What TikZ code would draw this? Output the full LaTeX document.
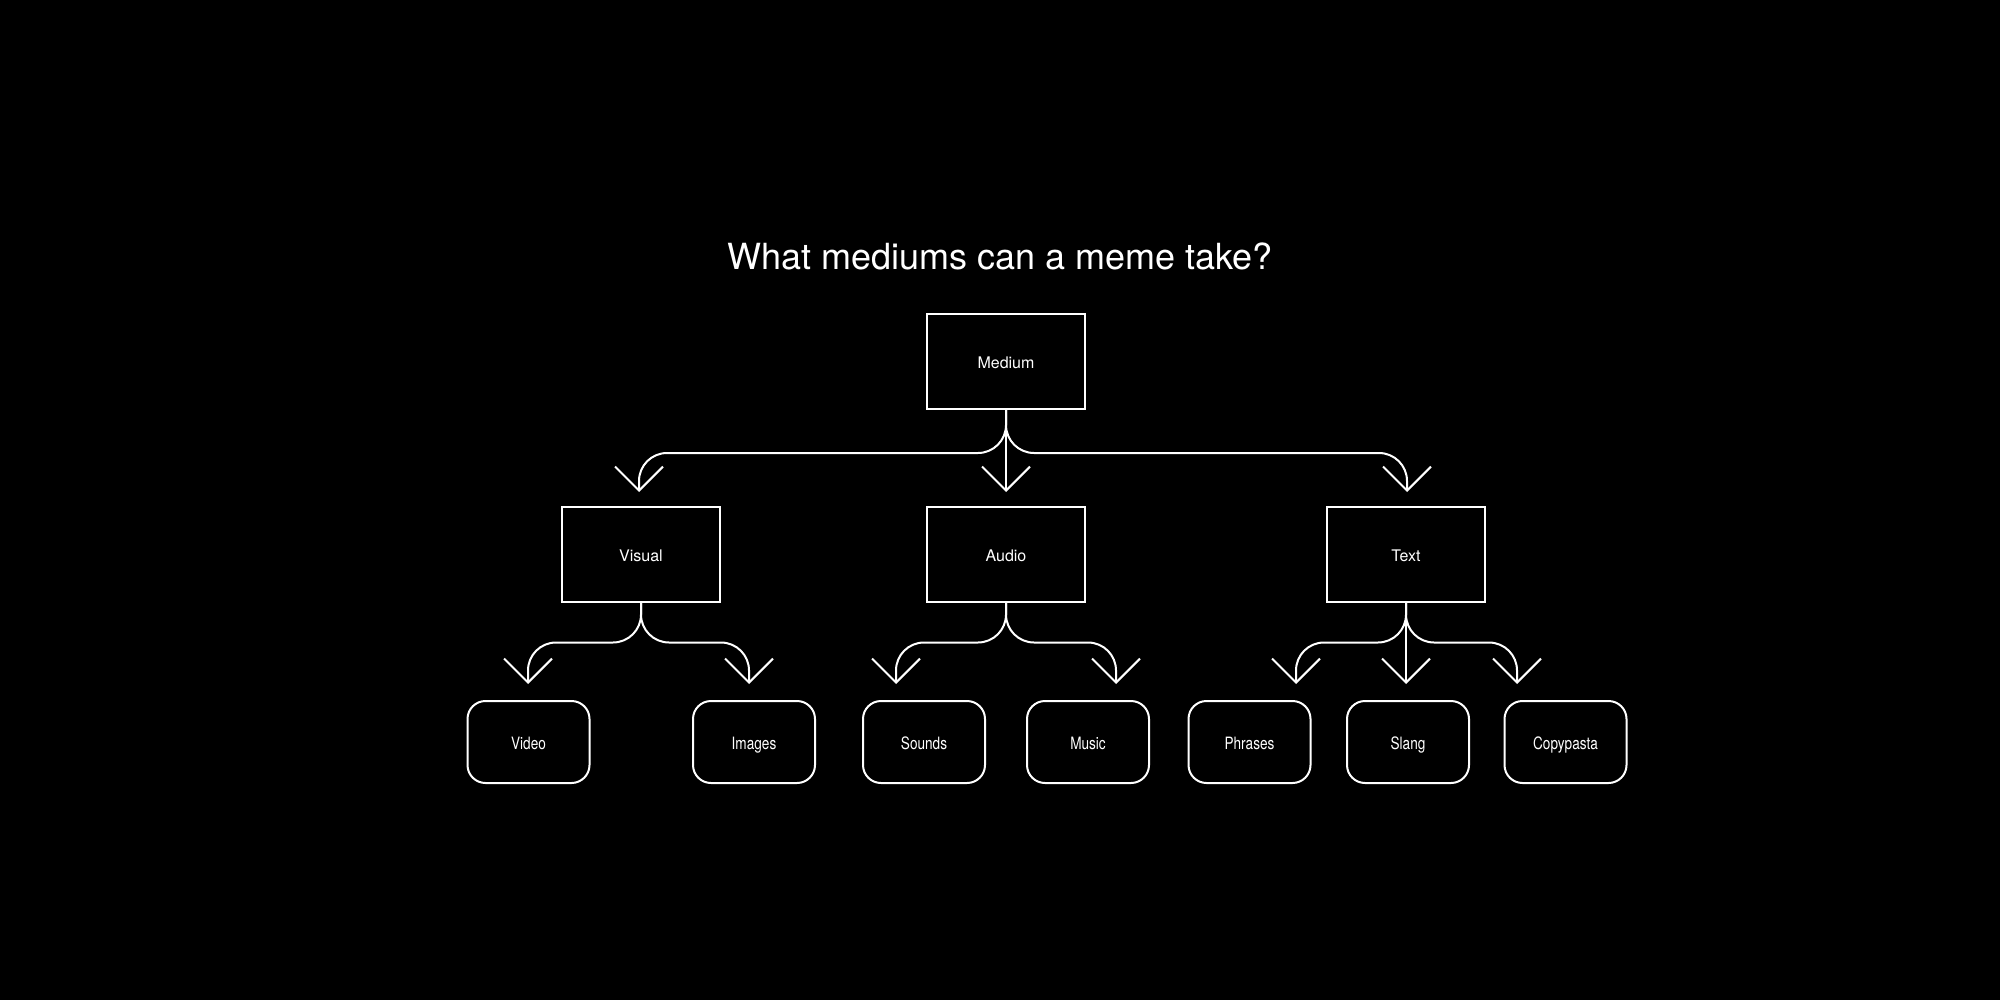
\documentclass[tikz,border=0pt]{standalone}
\usepackage{fontspec}
\setmainfont{TeX Gyre Heros}
\newfontfamily\narrowfont[FakeStretch=0.8]{TeX Gyre Heros}
\usepackage{xcolor}
\definecolor{Bg}{RGB}{0,0,0}
\definecolor{Fg}{RGB}{255,255,255}
\usetikzlibrary{arrows.meta}
\tikzstyle{Box}=[draw=Fg,line width=1pt,minimum width=79pt,minimum height=47.5pt,
text=Fg,text height=0.72em,text depth=0pt,font=\fontsize{8}{10}\selectfont]
\tikzstyle{Leaf}=[Box,rounded corners=9pt,minimum width=61pt,minimum height=41pt,
font=\narrowfont\fontsize{8.5}{10}\selectfont]
\tikzstyle{Edge}=[draw=Fg,line width=1pt,rounded corners=14pt,
-{Straight Barb[length=12pt,width=24pt]}]
\tikzstyle{Title}=[text=Fg,font=\fontsize{18}{22}\selectfont,anchor=base]

\begin{document}
\begin{tikzpicture}[x=0.5pt,y=-0.5pt]
        \fill[Bg](0,0)rectangle(2000,1000);
        \useasboundingbox(0,0)rectangle(2000,1000);
        \node[Title](title)at(1000,270){What mediums can a meme take?};
        % top and middle row
        \node[Box](medium)at(1006,361.5){Medium};
        \node[Box](visual)at(641,554){Visual};
        \node[Box](audio)at(1006,554){Audio};
        \node[Box](text)at(1406,554){Text};
        % bottom row
        \node[Leaf](video)at(528.5,742){Video};
        \node[Leaf](images)at(754,742){Images};
        \node[Leaf](sounds)at(924,742){Sounds};
        \node[Leaf](music)at(1088,742){Music};
        \node[Leaf](phrases)at(1249.5,742){Phrases};
        \node[Leaf](slang)at(1408,742){Slang};
        \node[Leaf](copypasta)at(1565.5,742){Copypasta};
        % arrow ends
        \coordinate(visual-in)at(639,492);
        \coordinate(audio-in)at(1006,492);
        \coordinate(text-in)at(1407,492);
        \coordinate(video-in)at(528,684);
        \coordinate(images-in)at(749,684);
        \coordinate(sounds-in)at(896,684);
        \coordinate(music-in)at(1116,684);
        \coordinate(phrases-in)at(1296,684);
        \coordinate(slang-in)at(1406,684);
        \coordinate(copypasta-in)at(1517,684);
        \draw[Edge](medium.south)--++(0,43)-|(visual-in);
        \draw[Edge](medium.south)--(audio-in);
        \draw[Edge](medium.south)--++(0,43)-|(text-in);
        \draw[Edge](visual.south)--++(0,40)-|(video-in);
        \draw[Edge](visual.south)--++(0,40)-|(images-in);
        \draw[Edge](audio.south)--++(0,40)-|(sounds-in);
        \draw[Edge](audio.south)--++(0,40)-|(music-in);
        \draw[Edge](text.south)--++(0,40)-|(phrases-in);
        \draw[Edge](text.south)--(slang-in);
        \draw[Edge](text.south)--++(0,40)-|(copypasta-in);
    \end{tikzpicture}
\end{document}
